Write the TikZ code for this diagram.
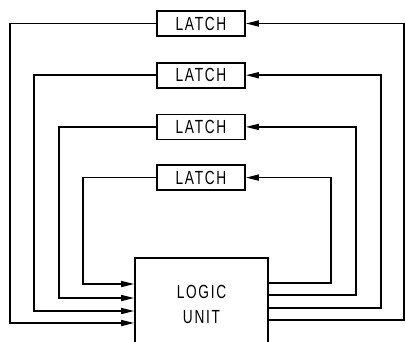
\documentclass[tikz,border=0pt]{standalone}
\usepackage{fontspec}
\setsansfont{Liberation Sans}[FakeStretch=0.72, LetterSpace=9]
\usetikzlibrary{positioning, arrows.meta}

\begin{document}
\begin{tikzpicture}[x=1pt, y=-1pt, font=\sffamily\fontsize{19}{25}\selectfont,
    latchbox/.style={draw, line width=1.7pt, minimum width=88pt, minimum height=25pt, inner sep=0pt},
    wire/.style={line width=1.5pt, -{Triangle[length=13pt, width=6pt]}}]
        \useasboundingbox (0,0) rectangle (406,341);
        \clip (0,0) rectangle (406,341);

        % Latches
        \node[latchbox] (latch1) at (201,23.5) {LATCH};
        \node[latchbox, below=25pt of latch1] (latch2) {LATCH};
        \node[latchbox, below=25pt of latch2] (latch3) {LATCH};
        \node[latchbox, below=24pt of latch3] (latch4) {LATCH};

        % Logic unit (bottom edge runs off the picture)
        \node[draw, line width=1.7pt, minimum width=133pt, minimum height=93pt, align=center]
            (logic) at (201.5,304.5) {LOGIC\\UNIT};

        % Feedback loops: latch -> logic (left), logic -> latch (right)
        \foreach \i/\xl/\yl/\xr/\yr in {1/10/323/404/320, 2/34/311/381/308, 3/59/298/356/295, 4/83/284/331/283}
        {
            \draw[wire] (latch\i.west) -| (\xl,\yl) -- (logic.west |- 0,\yl);
            \draw[wire] (logic.east |- 0,\yr) -- (\xr,\yr) |- (latch\i.east);
        }
\end{tikzpicture}
\end{document}
